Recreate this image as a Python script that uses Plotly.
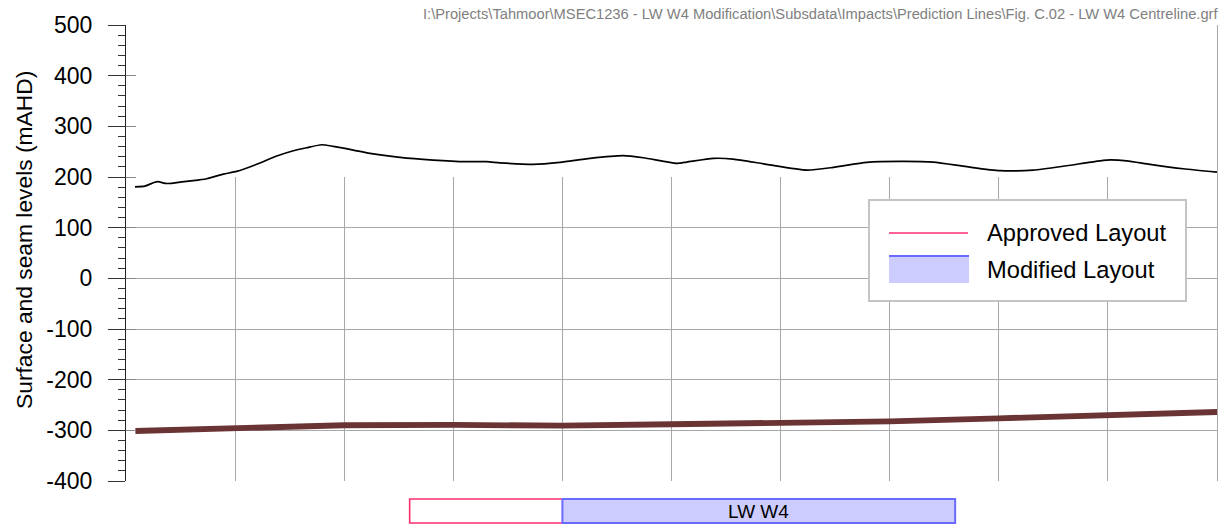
import plotly.graph_objects as go

# Chainage along the LW W4 centreline (m) and levels (mAHD)
surface_x = [41, 87, 125, 148, 179, 209, 247, 308, 370, 446, 507, 599, 691, 767,
             828, 897, 950, 1042, 1118, 1256, 1408, 1561, 1653, 1714, 1867, 1989,
             2127, 2279, 2371, 2524, 2570, 2692, 2783, 2936, 3120, 3241, 3395,
             3547, 3700, 3853, 4006, 4158, 4311, 4494, 4586, 4693, 4845, 5000]
surface_level = [180.7, 182, 188.7, 190.7, 187.5, 187.5, 190, 192.7, 196.6, 205.8,
                 211, 225, 241.4, 251.8, 257.8, 263.7, 260.5, 253.2, 246.7, 238.8,
                 233.5, 230.2, 230.2, 228, 225, 229, 236.8, 242, 238, 227, 229.5,
                 236.8, 235.4, 225, 213.7, 219, 229, 231, 229.5, 220.3, 212.4,
                 213.7, 222.2, 233.5, 232, 225, 216.3, 209.8]

seam_x = [43, 500, 1000, 1500, 2000, 2500, 2628, 3000, 3500, 4000, 4500, 5000]
seam_level = [-301.3, -295.3, -290, -289.3, -290.7, -288, -287.5, -285.5,
              -282.2, -276.3, -269.1, -263.8]

# Panel extents along the centreline (m)
approved_start, approved_end = 1300, 3800
modified_start, modified_end = 2000, 3800
panel_label = "LW W4"

y_ticks = [-400, -300, -200, -100, 0, 100, 200, 300, 400, 500]
y_tick_text = [str(v) for v in y_ticks]

FONT = "Liberation Sans, Arial, sans-serif"
GRID = "#a8a8a8"
W, H = 1227, 525
L, R, T, B = 126, 10, 25, 44
PW, PH = W - L - R, H - T - B


def px_x(p):
    return (p - L) / PW


def px_y(p):
    return (H - B - p) / PH


fig = go.Figure()

# grid-only subplot covering -400..200
fig.add_trace(go.Scatter(x=[], y=[], xaxis="x", yaxis="y", showlegend=False))
# right-hand border and inside tick stubs
fig.add_trace(go.Scatter(x=[], y=[], xaxis="x2", yaxis="y3", showlegend=False))
fig.add_trace(go.Scatter(x=[], y=[], xaxis="x2", yaxis="y4", showlegend=False))

fig.add_trace(go.Scatter(
    x=seam_x, y=seam_level, xaxis="x2", yaxis="y2", mode="lines",
    line=dict(color="#6b3434", width=5.8), showlegend=False, hoverinfo="skip"))
fig.add_trace(go.Scatter(
    x=surface_x, y=surface_level, xaxis="x2", yaxis="y2", mode="lines",
    line=dict(color="#000000", width=1.7, shape="spline", smoothing=0.6),
    showlegend=False, hoverinfo="skip"))

shapes = []
# panel boxes below the section
shapes.append(dict(type="rect", xref="x2", yref="paper",
                   x0=approved_start, x1=approved_end, y0=px_y(523), y1=px_y(499),
                   line=dict(color="#ff2e6e", width=1.6), fillcolor="white"))
shapes.append(dict(type="rect", xref="x2", yref="paper",
                   x0=modified_start, x1=modified_end, y0=px_y(523), y1=px_y(499),
                   line=dict(color="#6a6aff", width=2), fillcolor="#ccccff"))

# legend
shapes.append(dict(type="rect", xref="paper", yref="paper",
                   x0=px_x(869), x1=px_x(1186), y0=px_y(301), y1=px_y(200),
                   line=dict(color="#c4c4c4", width=2), fillcolor="white", layer="above"))
shapes.append(dict(type="line", xref="paper", yref="paper",
                   x0=px_x(889), x1=px_x(968), y0=px_y(233), y1=px_y(233),
                   line=dict(color="#ff2e6e", width=1.5), layer="above"))
shapes.append(dict(type="rect", xref="paper", yref="paper",
                   x0=px_x(889), x1=px_x(969), y0=px_y(283), y1=px_y(256),
                   line=dict(width=0), fillcolor="#ccccff", layer="above"))
shapes.append(dict(type="line", xref="paper", yref="paper",
                   x0=px_x(889), x1=px_x(969), y0=px_y(256), y1=px_y(256),
                   line=dict(color="#6a6aff", width=2), layer="above"))

annotations = [
    dict(text=panel_label, xref="x2", yref="paper",
         x=(modified_start + modified_end) / 2, y=px_y(512),
         xanchor="center", yanchor="middle",
         showarrow=False, font=dict(family=FONT, size=19, color="black")),
    dict(text="Approved Layout", xref="paper", yref="paper", x=px_x(985), y=px_y(233),
         xanchor="left", yanchor="middle", showarrow=False,
         font=dict(family=FONT, size=23.7, color="black")),
    dict(text="Modified Layout", xref="paper", yref="paper", x=px_x(985), y=px_y(270),
         xanchor="left", yanchor="middle", showarrow=False,
         font=dict(family=FONT, size=23.7, color="black")),
    dict(text="Surface and seam levels (mAHD)", xref="paper", yref="paper",
         x=px_x(24), y=px_y(240), textangle=-90, showarrow=False,
         xanchor="center", yanchor="middle",
         font=dict(family=FONT, size=22.8, color="black")),
    dict(text=r"I:\Projects\Tahmoor\MSEC1236 - LW W4 Modification\Subsdata\Impacts"
              r"\Prediction Lines\Fig. C.02 - LW W4 Centreline.grf",
         xref="paper", yref="paper", x=px_x(1220), y=px_y(14),
         xanchor="right", yanchor="middle", showarrow=False,
         font=dict(family=FONT, size=14.7, color="#808080")),
]

fig.update_layout(
    width=W, height=H,
    margin=dict(l=L, r=R, t=T, b=B),
    paper_bgcolor="white", plot_bgcolor="rgba(0,0,0,0)",
    showlegend=False,
    font=dict(family=FONT, color="black"),
    xaxis=dict(domain=[0, 1], range=[0, 5000], dtick=500, tick0=0,
               showgrid=True, gridcolor=GRID, gridwidth=1, zeroline=False,
               showticklabels=False, ticks="", showline=False, anchor="y"),
    yaxis=dict(domain=[0, 600 / 900], range=[-400, 200], dtick=100, tick0=0,
               showgrid=True, gridcolor=GRID, gridwidth=1, zeroline=False,
               showticklabels=False, ticks="", showline=False, anchor="x"),
    xaxis2=dict(domain=[0, 1], range=[0, 5000], visible=False, anchor="y2"),
    yaxis2=dict(domain=[0, 1], range=[-400, 500], tickvals=y_ticks,
                ticktext=y_tick_text, anchor="x2",
                showgrid=False, zeroline=False, showline=True, linecolor="#222222",
                linewidth=1.2, ticks="outside", ticklen=17, tickwidth=1.2,
                tickcolor="#333333", tickfont=dict(family=FONT, size=23, color="black"),
                ticklabelstandoff=11,
                minor=dict(dtick=20, tick0=0, ticks="outside", ticklen=7,
                           tickwidth=1.2, tickcolor="#333333", showgrid=False)),
    yaxis3=dict(overlaying="y2", anchor="x2", side="left", range=[-400, 500],
                tickvals=y_ticks, ticks="inside", ticklen=10, tickwidth=1.2,
                tickcolor="#888888", showticklabels=False, showgrid=False,
                zeroline=False, showline=False),
    yaxis4=dict(overlaying="y2", anchor="x2", side="right", range=[-400, 500],
                showticklabels=False, ticks="", showgrid=False, zeroline=False,
                showline=True, linecolor=GRID, linewidth=1),
    shapes=shapes,
    annotations=annotations,
)

fig.write_html("out.html")
